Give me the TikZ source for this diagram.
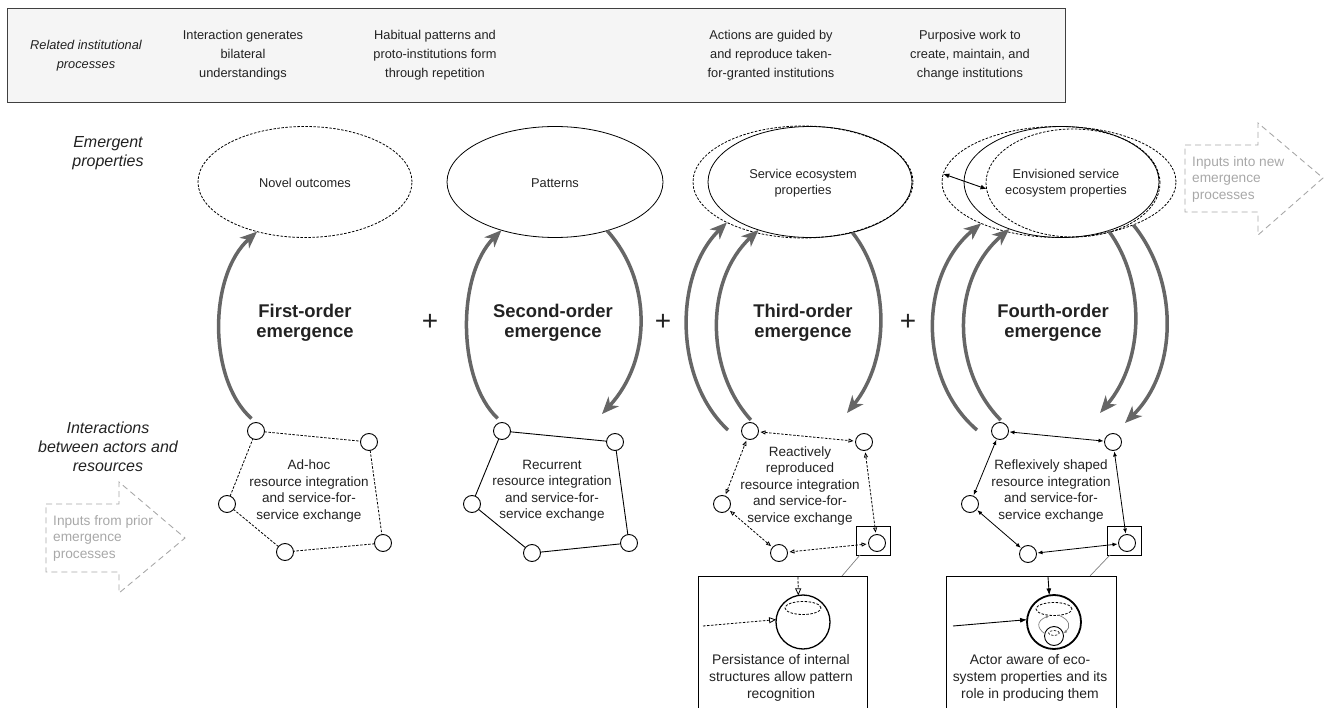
\documentclass[tikz,border=0pt]{standalone}
\usepackage{fontspec}
\setmainfont{Liberation Sans}
\usetikzlibrary{shapes.geometric,arrows.meta}
\definecolor{arrowgray}{HTML}{666666}
\definecolor{txt}{HTML}{222222}
\definecolor{ghostgray}{HTML}{A8A8A8}
\definecolor{headfill}{HTML}{F5F5F5}
\begin{document}
\begin{tikzpicture}[x=1pt,y=-1pt,
  every node/.style={text=txt},
  hdr/.style={font=\fontsize{12.8}{19}\selectfont, align=center, inner sep=0},
  side/.style={font=\fontsize{16}{19}\selectfont\itshape, align=center, inner sep=0},
  ell/.style={ellipse, draw, line width=0.8pt, inner sep=0, outer sep=0},
  elltext/.style={font=\fontsize{12.8}{16}\selectfont, align=center, inner sep=0},
  dsh/.style={dash pattern=on 2.5pt off 1.5pt},
  big/.style={line width=3.5pt, draw=arrowgray, -{Stealth[length=17pt,width=14pt,inset=5pt]}},
  actor/.style={circle, draw, line width=0.9pt, minimum size=17pt, inner sep=0, outer sep=0},
  ptext/.style={font=\fontsize{13.5}{16.5}\selectfont, align=center, inner sep=0},
  order/.style={font=\fontsize{18.4}{20}\selectfont\bfseries, align=center, inner sep=0},
  plus/.style={font=\fontsize{28}{28}\selectfont, inner sep=0},
  insettext/.style={font=\fontsize{13.9}{17}\selectfont, align=center, inner sep=0},
  ghost/.style={draw=ghostgray, line width=0.9pt, dash pattern=on 6pt off 4pt},
  ghosttext/.style={text=ghostgray, font=\fontsize{13.7}{16.5}\selectfont, align=left, inner sep=0},
  openhead/.style={{Triangle[open,length=5pt,width=4pt]}-{Triangle[open,length=5pt,width=4pt]}},
  fillhead/.style={{Latex[length=5pt,width=4pt]}-{Latex[length=5pt,width=4pt]}},
  frame/.style={draw, line width=0.9pt, minimum width=34pt, minimum height=29pt, inner sep=0, outer sep=0}
]
\useasboundingbox (0,0) rectangle (1325,708);

% ---------- header ----------
\node[draw=black!75, fill=headfill, line width=1pt, minimum width=1058pt, minimum height=94pt,
      inner sep=0, anchor=north west] (header) at (7,8) {};
\node[hdr, font=\fontsize{12.8}{19}\selectfont\itshape] (h0) at (86,56) {Related institutional\\processes};
\node[hdr] (h1) at (243,55) {Interaction generates\\bilateral\\understandings};
\node[hdr] (h2) at (435,55) {Habitual patterns and\\proto-institutions form\\through repetition};
\node[hdr] (h3) at (771,55) {Actions are guided by\\and reproduce taken-\\for-granted institutions};
\node[hdr] (h4) at (970,55) {Purposive work to\\create, maintain, and\\change institutions};

% ---------- side labels ----------
\node[side] (lep) at (108,153) {Emergent\\properties};
\node[side] (lia) at (108,447) {Interactions\\between actors and\\resources};

% ---------- emergent properties ----------
\node[ell, dsh, minimum width=214pt, minimum height=111pt] (e1) at (305,182) {};
\node[elltext] (e1t) at (305,183) {Novel outcomes};

\node[ell, minimum width=216pt, minimum height=111pt] (e2) at (555,182) {};
\node[elltext] (e2t) at (555,183) {Patterns};

\node[ell, dsh, minimum width=220pt, minimum height=112pt] (e3b) at (803,182) {};
\node[ell, minimum width=204pt, minimum height=111pt] (e3) at (810,182) {};
\node[elltext] (e3t) at (803,183) {Service ecosystem\\properties};

\node[ell, dsh, minimum width=234pt, minimum height=111pt] (e4o) at (1059,182) {};
\node[ell, minimum width=195pt, minimum height=111pt] (e4) at (1061.5,182) {};
\node[ell, dsh, minimum width=174pt, minimum height=108pt] (e4i) at (1073,183) {};
\node[elltext] (e4t) at (1066,183) {Envisioned service\\ecosystem properties};
\draw[line width=0.9pt, {Latex[length=6pt,width=5pt]}-{Latex[length=6pt,width=5pt]}] (e4o.176) -- (e4i.184);

% ---------- ghost arrows ----------
\draw[ghost] (1185,145) -- (1258,145) -- (1258,123) -- (1323,178) -- (1258,235) -- (1258,212) -- (1185,212) -- cycle;
\node[ghosttext, anchor=west] (gout) at (1192,179) {Inputs into new\\emergence\\processes};
\draw[ghost] (46,504) -- (119,504) -- (119,482) -- (185,538) -- (119,593) -- (119,572) -- (46,572) -- cycle;
\node[ghosttext, anchor=west] (gin) at (53,538) {Inputs from prior\\emergence\\processes};

% ---------- order labels ----------
\node[order] (o1) at (305,323) {First-order\\emergence};
\node[order] (o2) at (553,323) {Second-order\\emergence};
\node[order] (o3) at (803,323) {Third-order\\emergence};
\node[order] (o4) at (1053,323) {Fourth-order\\emergence};
\node[plus] (pl1) at (430,322) {+};
\node[plus] (pl2) at (663,322) {+};
\node[plus] (pl3) at (908,322) {+};

% ---------- polygon 1 ----------
\node[actor] (p1a) at (256,431) {};
\node[actor] (p1b) at (369,442) {};
\node[actor] (p1c) at (227,504) {};
\node[actor] (p1d) at (285,552) {};
\node[actor] (p1e) at (383,543) {};
\draw[dsh, line width=0.8pt] (p1a) -- (p1b) (p1b) -- (p1e) (p1e) -- (p1d) (p1d) -- (p1c) (p1c) -- (p1a);
\node[ptext] (p1t) at (309,491) {Ad-hoc\\resource integration\\and service-for-\\service exchange};

% ---------- polygon 2 ----------
\node[actor] (p2a) at (502,431) {};
\node[actor] (p2b) at (615,442) {};
\node[actor] (p2c) at (472,504) {};
\node[actor] (p2d) at (532,553) {};
\node[actor] (p2e) at (629,543) {};
\draw[line width=0.9pt] (p2a) -- (p2b) (p2b) -- (p2e) (p2e) -- (p2d) (p2d) -- (p2c) (p2c) -- (p2a);
\node[ptext] (p2t) at (552,491) {Recurrent\\resource integration\\and service-for-\\service exchange};

% ---------- polygon 3 ----------
\node[actor] (p3a) at (750,431) {};
\node[actor] (p3b) at (864,442) {};
\node[actor] (p3c) at (722,504) {};
\node[actor] (p3d) at (779,553) {};
\node[actor] (p3e) at (877,543) {};
\node[frame] (f3) at (873,540.5) {};
\draw[dsh, line width=0.8pt, openhead, shorten <=2pt, shorten >=2pt] (p3a) -- (p3b);
\draw[dsh, line width=0.8pt, openhead, shorten <=2pt, shorten >=2pt] (p3b) -- (p3e);
\draw[dsh, line width=0.8pt, openhead, shorten <=2pt, shorten >=2pt] (p3e) -- (p3d);
\draw[dsh, line width=0.8pt, openhead, shorten <=2pt, shorten >=2pt] (p3d) -- (p3c);
\draw[dsh, line width=0.8pt, openhead, shorten <=2pt, shorten >=2pt] (p3c) -- (p3a);
\node[ptext] (p3t) at (800,486) {Reactively\\reproduced\\resource integration\\and service-for-\\service exchange};

% ---------- polygon 4 ----------
\node[actor] (p4a) at (1000,431) {};
\node[actor] (p4b) at (1113,442) {};
\node[actor] (p4c) at (970,504) {};
\node[actor] (p4d) at (1028,554) {};
\node[actor] (p4e) at (1127,543) {};
\node[frame] (f4) at (1124,540.5) {};
\draw[line width=0.8pt, fillhead, shorten <=1pt, shorten >=1pt] (p4a) -- (p4b);
\draw[line width=0.8pt, fillhead, shorten <=1pt, shorten >=1pt] (p4b) -- (p4e);
\draw[line width=0.8pt, fillhead, shorten <=1pt, shorten >=1pt] (p4e) -- (p4d);
\draw[line width=0.8pt, fillhead, shorten <=1pt, shorten >=1pt] (p4d) -- (p4c);
\draw[line width=0.8pt, fillhead, shorten <=1pt, shorten >=1pt] (p4c) -- (p4a);
\node[ptext] (p4t) at (1051,491) {Reflexively shaped\\resource integration\\and service-for-\\service exchange};

% ---------- big emergence arrows ----------
\coordinate (t2) at (602,414);
\coordinate (s3o) at (728,430);
\coordinate (t3) at (847,413);
\coordinate (s4o) at (977,430);
\coordinate (t4i) at (1100,413);
\coordinate (t4o) at (1125,423);

\draw[big, shorten <=6pt] (p1a.north) .. controls +(-48,-42.5) and +(-49,44) .. (e1.226);
\draw[big, shorten <=6pt] (p2a.north) .. controls +(-45,-42.5) and +(-45,45) .. (e2.222);
\draw[big] (e2.317) .. controls +(45,50) and +(50,-54) .. (t2);
\draw[big] (s3o) .. controls +(-54,-50) and +(-53.5,52.4) .. (e3b.208);
\draw[big, shorten <=5pt] (p3a.60) .. controls +(-49,-53.6) and +(-54,50) .. (e3.223);
\draw[big] (e3.310) .. controls +(38,48) and +(43,-53) .. (t3);
\draw[big] (s4o) .. controls +(-59,-50) and +(-62.7,51.4) .. (e4o.208);
\draw[big, shorten <=5pt] (p4a.60) .. controls +(-53,-53.6) and +(-58.7,50.6) .. (e4.222);
\draw[big] (e4.314) .. controls +(37,50) and +(45,-53) .. (t4i);
\draw[big] (e4o.330) .. controls +(45,55) and +(54,-53) .. (t4o);

% ---------- inset 3 ----------
\coordinate (i3l) at (698,708);
\coordinate (i3c) at (842,576);
\coordinate (i3r) at (867,708);
\draw[line width=1pt] (i3l) |- (867,576) -- (i3r);
\draw[gray, line width=0.7pt] ([xshift=4pt]f3.south west) -- (i3c);
\node[circle, draw, line width=1.3pt, minimum size=54pt, inner sep=0, outer sep=0] (s3) at (803,622) {};
\node[ellipse, draw, dsh, line width=0.8pt, minimum width=36pt, minimum height=13pt, inner sep=0] (el3) at (803,608) {};
\coordinate (a3t) at (798,577);
\coordinate (a3l) at (703,626);
\draw[dsh, line width=0.8pt, -{Triangle[open,length=7pt,width=6pt]}] (a3t) -- (s3.100);
\draw[dsh, line width=0.8pt, -{Triangle[open,length=7pt,width=6pt]}] (a3l) -- (s3.175);
\node[insettext] (i3t) at (781,678) {Persistance of internal\\structures allow pattern\\recognition};

% ---------- inset 4 ----------
\coordinate (i4l) at (946,708);
\coordinate (i4c) at (1090,576);
\coordinate (i4r) at (1116,708);
\draw[line width=1pt] (i4l) |- (1116,576) -- (i4r);
\draw[gray, line width=0.7pt] ([xshift=3pt]f4.south west) -- (i4c);
\node[circle, draw, line width=1.8pt, minimum size=54pt, inner sep=0, outer sep=0] (s4) at (1054,622) {};
\node[ellipse, draw, dsh, line width=0.8pt, minimum width=36pt, minimum height=13pt, inner sep=0] (el4) at (1054,609) {};
\node[circle, draw, line width=0.9pt, minimum size=19pt, inner sep=0] (sm4) at (1054,636) {};
\node[ellipse, draw, dsh, line width=0.6pt, minimum width=11pt, minimum height=5pt, inner sep=0] (sel4) at (1054,633) {};
\draw[gray, line width=0.7pt, -{Latex[length=3.5pt,width=3pt]}] (sm4.165) .. controls (1037,628) and (1036,621) .. (el4.235);
\draw[gray, line width=0.7pt, -{Latex[length=3.5pt,width=3pt]}] (el4.-50) .. controls (1070,620) and (1071,627) .. (sm4.15);
\coordinate (a4t) at (1048,577);
\coordinate (a4l) at (953,626);
\draw[line width=0.9pt, -{Latex[length=7pt,width=5pt]}] (a4t) -- (s4.100);
\draw[line width=0.9pt, -{Latex[length=7pt,width=5pt]}] (a4l) -- (s4.175);
\node[insettext] (i4t) at (1030,678) {Actor aware of eco-\\system properties and its\\role in producing them};
\end{tikzpicture}
\end{document}
